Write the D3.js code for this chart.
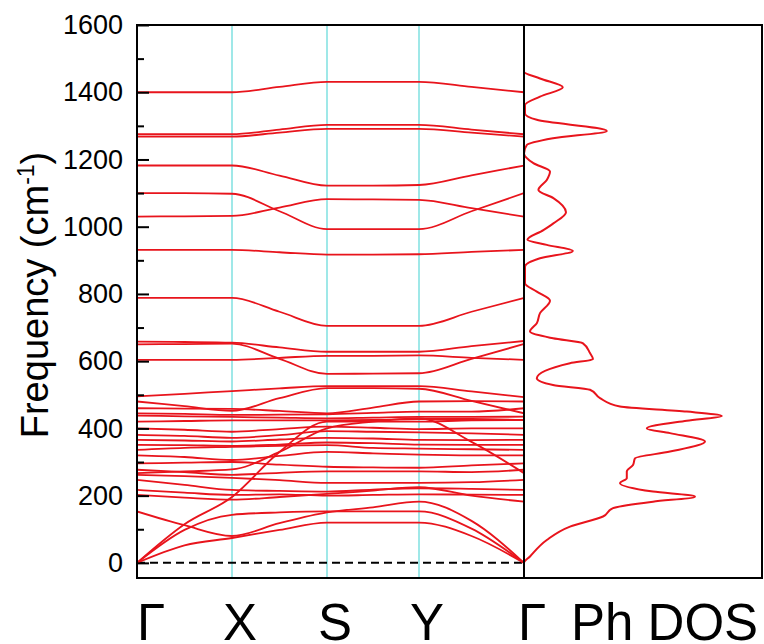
<!DOCTYPE html>
<html>
<head>
<meta charset="utf-8">
<script src="https://cdn.jsdelivr.net/npm/d3@7"></script>
<style>
  body { margin: 0; background: #fff; }
  svg { display: block; }
  text { font-family: "Liberation Sans", Arial, sans-serif; fill: #000; }
</style>
</head>
<body>
<div id="chart"></div>
<script>
// high-symmetry path
var kLabels = ["Γ", "X", "S", "Y", "Γ"];
var kTicks = [0, 0.95, 1.90, 2.82, 3.87];

var yTicks = [0, 200, 400, 600, 800, 1000, 1200, 1400, 1600];
var yMinorTicks = [100, 300, 500, 700, 900, 1100, 1300, 1500];

// phonon branches, sampled at  Γ, ½, X, ½, S, ½, Y, ½, Γ   (cm-1)
var bands = [
  [1400, 1400, 1400, 1416, 1431, 1431, 1431, 1416, 1400],
  [1275, 1275, 1275, 1289, 1303, 1303, 1303, 1289, 1275],
  [1268, 1268, 1268, 1280, 1291, 1291, 1291, 1280, 1268],
  [1182, 1182, 1182, 1152, 1122, 1122, 1124, 1153, 1182],
  [1100, 1100, 1098, 1046, 993, 993, 993, 1046, 1100],
  [1030, 1031, 1032, 1057, 1082, 1081, 1080, 1055, 1030],
  [931, 931, 931, 924, 917, 917, 918, 925, 931],
  [788, 788, 788, 747, 705, 705, 705, 747, 788],
  [658, 657, 655, 641, 628, 628, 628, 645, 660],
  [650, 651, 652, 607, 562, 563, 564, 607, 651],
  [604, 604, 604, 610, 616, 616, 617, 610, 604],
  [495, 503, 511, 519, 526, 526, 526, 510, 493],
  [480, 466, 452, 490, 520, 520, 518, 482, 445],
  [460, 459, 458, 452, 445, 462, 480, 481, 480],
  [445, 443, 440, 441, 442, 446, 450, 450, 460],
  [438, 436, 434, 432, 430, 432, 434, 434, 435],
  [420, 422, 424, 424, 424, 425, 428, 428, 425],
  [400, 396, 390, 398, 405, 402, 398, 400, 400],
  [381, 378, 372, 380, 392, 390, 388, 385, 381],
  [366, 364, 361, 367, 372, 370, 366, 365, 366],
  [351, 350, 348, 352, 358, 356, 352, 351, 351],
  [336, 342, 345, 348, 350, 342, 340, 338, 336],
  [320, 315, 306, 318, 330, 326, 322, 320, 320],
  [296, 298, 300, 292, 286, 284, 283, 290, 296],
  [277, 270, 262, 268, 272, 272, 272, 270, 277],
  [262, 258, 253, 246, 238, 238, 238, 240, 247],
  [247, 232, 217, 214, 212, 218, 222, 220, 217],
  [217, 209, 202, 204, 200, 202, 204, 203, 202],
  [202, 194, 188, 196, 205, 215, 225, 200, 182],
  [267, 272, 278, 330, 400, 420, 430, 360, 267],
  [0, 115, 196, 330, 420, 420, 420, 424, 425],
  [153, 112, 80, 118, 150, 165, 182, 125, 0],
  [0, 98, 143, 150, 153, 153, 153, 102, 0],
  [0, 52, 74, 98, 120, 120, 120, 80, 0]
];

// phonon DOS (arb. units) vs frequency
var dosFreq = [1600, 1461, 1441, 1415, 1387, 1362, 1337, 1318, 1285, 1263, 1243, 1218,
  1189, 1164, 1139, 1109, 1085, 1043, 1010, 990, 961, 946, 928, 906, 881, 832, 807,
  780, 743, 713, 688, 668, 653, 624, 606, 594, 549, 529, 515, 490, 465, 450, 437,
  423, 400, 386, 361, 331, 311, 291, 272, 252, 237, 212, 197, 182, 163, 138, 108,
  68, 19, 0, -45];
var dosStates = [0, 0, 8, 19.4, 8, 0.5, 0.5, 6.4, 41.4, 14.5, 1.4, 0,
  4.7, 13, 11.4, 7.2, 14.7, 21, 14.7, 9.7, 1.7, 11.4, 24.4, 8, 0.5, 0.5, 6.4,
  13, 8, 6.4, 3, 14.5, 29.5, 33, 34.5, 23, 6.4, 14.5, 33, 38, 48, 81.4, 98.9,
  81.4, 61.4, 73, 90.5, 73, 55.5, 54.5, 51.4, 51.4, 48, 64.5, 85.5, 64.5, 44.5, 39.5, 23,
  11.4, 3, 0, 0];

var red = "#e8141c";
var pLeft = 137, pMid = 524, pRight = 762, pTop = 25, pBottom = 578;

var svg = d3.select("#chart")
  .append("svg")
    .attr("width", 764)
    .attr("height", 644);

var x = d3.scaleLinear().domain([0, kTicks[4]]).range([pLeft, pMid]);
var y = d3.scaleLinear().domain([-45, 1600]).range([pBottom, pTop]);
var xd = d3.scaleLinear().domain([0, 119]).range([pMid, pRight]);

// k positions of the samples: each high-symmetry point and the halfway point between them
var kSamples = [];
kTicks.forEach(function (k, i) {
  kSamples.push(k);
  if (i < kTicks.length - 1) kSamples.push((k + kTicks[i + 1]) / 2);
});

svg.append("clipPath").attr("id", "bandclip")
  .append("rect").attr("x", pLeft).attr("y", pTop).attr("width", pMid - pLeft).attr("height", pBottom - pTop);

// high-symmetry vertical lines
svg.append("g")
  .selectAll("line")
  .data(kTicks.slice(1, 4))
  .enter()
  .append("line")
    .attr("x1", d => x(d)).attr("x2", d => x(d))
    .attr("y1", pTop).attr("y2", pBottom)
    .style("stroke", "#7fe0e0")
    .style("stroke-width", 1.5);

// zero line
svg.append("line")
  .attr("x1", pLeft).attr("x2", pMid)
  .attr("y1", y(0)).attr("y2", y(0))
  .style("stroke", "#000")
  .style("stroke-width", 2)
  .style("stroke-dasharray", "8,5");

var bandLine = d3.line()
  .x(function (d, i) { return x(kSamples[i]); })
  .y(function (d) { return y(d); })
  .curve(d3.curveMonotoneX);

svg.append("g")
  .attr("clip-path", "url(#bandclip)")
  .selectAll("path")
  .data(bands)
  .enter()
  .append("path")
    .attr("d", bandLine)
    .style("fill", "none")
    .style("stroke", red)
    .style("stroke-width", 1.8);

// DOS
var dosLine = d3.line()
  .x(function (d, i) { return xd(dosStates[i]); })
  .y(function (d) { return y(d); })
  .curve(d3.curveMonotoneY);

svg.append("path")
  .datum(dosFreq)
  .attr("d", dosLine)
  .style("fill", "none")
  .style("stroke", red)
  .style("stroke-width", 2);

// frame
svg.append("rect")
  .attr("x", pLeft).attr("y", pTop)
  .attr("width", pRight - pLeft).attr("height", pBottom - pTop)
  .style("fill", "none").style("stroke", "#000").style("stroke-width", 2);
svg.append("line")
  .attr("x1", pMid).attr("x2", pMid).attr("y1", pTop).attr("y2", pBottom)
  .style("stroke", "#000").style("stroke-width", 2);

// y axis
var yAxis = svg.append("g")
  .attr("transform", "translate(" + pLeft + ",0)")
  .call(d3.axisLeft(y).tickValues(yTicks).tickSize(-12).tickPadding(14).tickFormat(d3.format("d")));
yAxis.select(".domain").remove();
yAxis.selectAll("line").style("stroke", "#000").style("stroke-width", 2);
yAxis.selectAll("text")
  .style("font-family", "'Liberation Sans', Arial, sans-serif")
  .style("font-size", "27px")
  .attr("fill", "#000");

var yMinor = svg.append("g")
  .attr("transform", "translate(" + pLeft + ",0)")
  .call(d3.axisLeft(y).tickValues(yMinorTicks).tickSize(-7).tickFormat(""));
yMinor.select(".domain").remove();
yMinor.selectAll("line").style("stroke", "#000").style("stroke-width", 2);

// y label
var ylab = svg.append("text")
  .attr("transform", "translate(48,295) rotate(-90)")
  .attr("text-anchor", "middle")
  .style("font-size", "38px");
ylab.append("tspan").text("Frequency (cm");
ylab.append("tspan").attr("dy", -14).style("font-size", "23px").text("-1");
ylab.append("tspan").attr("dy", 14).text(")");

// k labels
svg.append("g")
  .selectAll("text")
  .data(kTicks)
  .enter()
  .append("text")
    .attr("x", function (d, i) { return i === 0 ? pLeft : x(d) + 8; })
    .attr("y", 640)
    .attr("text-anchor", function (d, i) { return i === 0 ? "start" : "middle"; })
    .style("font-size", "51px")
    .text(function (d, i) { return kLabels[i]; });

svg.append("text")
  .attr("x", 571).attr("y", 640)
  .style("font-size", "51px")
  .text("Ph DOS");
</script>
</body>
</html>
